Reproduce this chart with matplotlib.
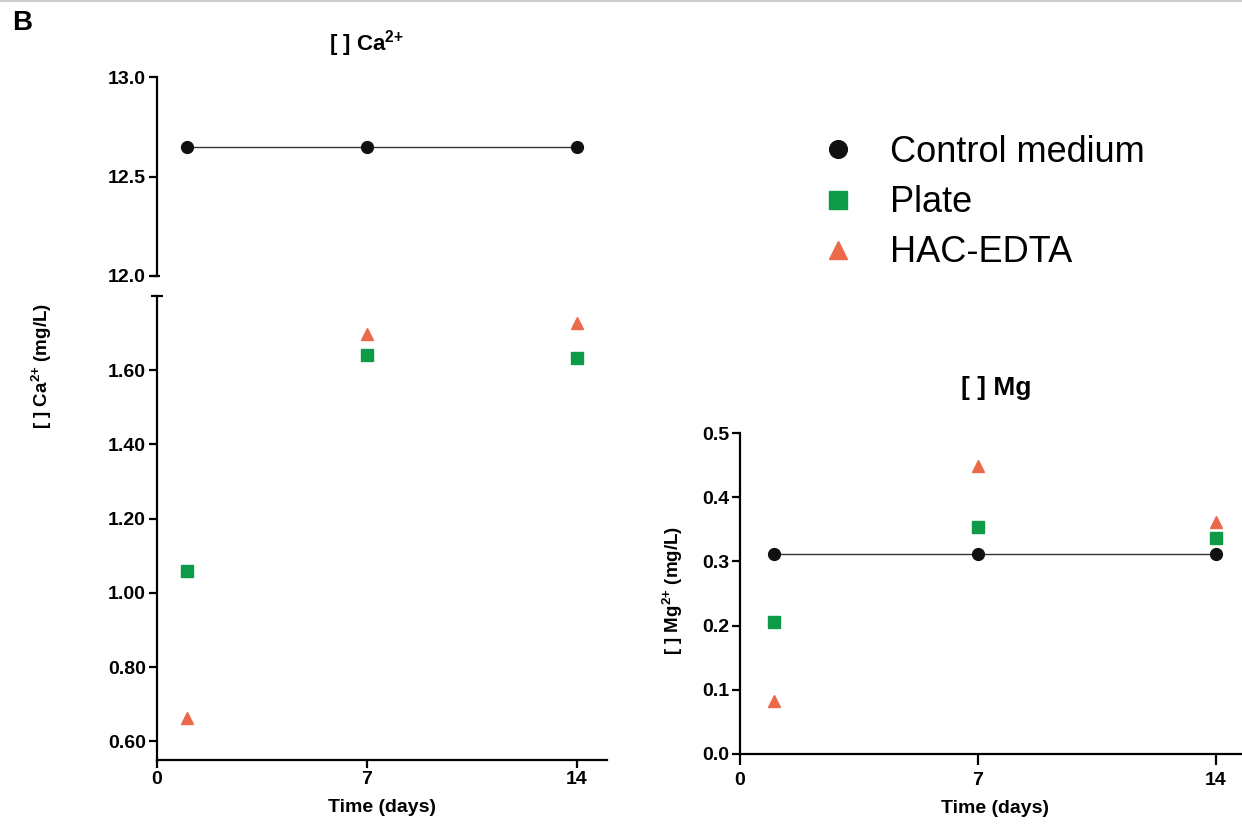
import matplotlib
matplotlib.use("Agg")
import matplotlib.pyplot as plt
from matplotlib.lines import Line2D

plt.rcParams['font.family'] = ['Liberation Sans', 'DejaVu Sans']
plt.rcParams['mathtext.default'] = 'regular'

# ---- data ----
days = [1, 7, 14]
ca_control = [12.65, 12.65, 12.65]
ca_plate = [1.06, 1.64, 1.633]
ca_hac = [0.663, 1.698, 1.728]
mg_control = [0.311, 0.311, 0.311]
mg_plate = [0.206, 0.354, 0.336]
mg_hac = [0.082, 0.448, 0.362]

x_ticks = [0, 7, 14]
ca_top_ticks = [12.0, 12.5, 13.0]
ca_bot_ticks = [0.60, 0.80, 1.00, 1.20, 1.40, 1.60]
mg_ticks = [0.0, 0.1, 0.2, 0.3, 0.4, 0.5]

labels = ["Control medium", "Plate", "HAC-EDTA"]
c_black = "#111111"
c_green = "#0e9a47"
c_orange = "#ec6a4b"

W, H = 1242, 825
fig = plt.figure(figsize=(W / 100, H / 100), dpi=100)


def px(x0, y0, x1, y1):
    return [x0 / W, 1 - y1 / H, (x1 - x0) / W, (y1 - y0) / H]


SPW = 1.6
TICK = dict(direction='out', length=6, width=1.6, labelsize=14, pad=2)

ax_top = fig.add_axes(px(157, 77, 607, 276))
ax_bot = fig.add_axes(px(157, 296, 607, 760))
ax_mg = fig.add_axes(px(740, 433, 1250, 754))

for a in (ax_top, ax_bot, ax_mg):
    for s in ('top', 'right'):
        a.spines[s].set_visible(False)
    for s in ('left', 'bottom'):
        a.spines[s].set_linewidth(SPW)
    a.tick_params(**TICK)
    a.set_xlim(0, 15)

ax_mg.tick_params(axis='x', length=8, pad=5)

ax_top.spines['bottom'].set_visible(False)
ax_top.tick_params(axis='x', bottom=False, labelbottom=False)

# Calcium top (control)
ax_top.plot(days, ca_control, '-', color='#333333', lw=1.0, zorder=2)
ax_top.plot(days, ca_control, 'o', color=c_black, ms=8.5, zorder=3)
ax_top.set_ylim(12.0, 13.0)
ax_top.set_yticks(ca_top_ticks)
ax_top.set_yticklabels([f"{v:.1f}" for v in ca_top_ticks])

# Calcium bottom
ax_bot.plot(days, ca_plate, 's', color=c_green, ms=8.5, zorder=3)
ax_bot.plot(days, ca_hac, '^', color=c_orange, ms=9, zorder=3)
ax_bot.set_ylim(0.55, 1.80)
ax_bot.set_yticks(ca_bot_ticks)
ax_bot.set_yticklabels([f"{v:.2f}" for v in ca_bot_ticks])
ax_bot.set_xticks(x_ticks)
ax_bot.set_xticklabels([str(v) for v in x_ticks])
ax_bot.set_xlabel("Time (days)", fontsize=14, fontweight='bold', labelpad=8)

# break caps
cap = 6 / 450 * 15
ax_bot.plot([-cap, cap], [1.80, 1.80], color='black', lw=SPW, clip_on=False,
            solid_capstyle='butt')
ax_top.plot([-cap, cap * 0.5], [12.0, 12.0], color='black', lw=SPW, clip_on=False,
            solid_capstyle='butt')

# Magnesium
ax_mg.plot(days, mg_control, '-', color='#333333', lw=1.0, zorder=2)
h1, = ax_mg.plot(days, mg_control, 'o', color=c_black, ms=8.5, zorder=3)
h2, = ax_mg.plot(days, mg_plate, 's', color=c_green, ms=8.5, zorder=3)
h3, = ax_mg.plot(days, mg_hac, '^', color=c_orange, ms=9, zorder=3)
ax_mg.set_ylim(0, 0.5)
ax_mg.set_yticks(mg_ticks)
ax_mg.set_yticklabels([f"{v:.1f}" for v in mg_ticks])
ax_mg.set_xticks(x_ticks)
ax_mg.set_xticklabels([str(v) for v in x_ticks])
ax_mg.set_xlabel("Time (days)", fontsize=14, fontweight='bold', labelpad=8)

for a in (ax_top, ax_bot, ax_mg):
    for t in a.get_xticklabels() + a.get_yticklabels():
        t.set_fontweight('bold')

# titles and labels
fig.text(22 / W, 1 - 23 / H, "B", fontsize=20, fontweight='bold', ha='center', va='center')
fig.text(366 / W, 1 - 44 / H, "[ ] Ca$^{2{+}}$", fontsize=16, fontweight='bold',
         ha='center', va='center')
fig.text(996 / W, 1 - 388 / H, "[ ] Mg", fontsize=19, fontweight='bold',
         ha='center', va='center')
fig.text(42 / W, 1 - 366 / H, "[ ] Ca$^{2{+}}$ (mg/L)", fontsize=13.5, fontweight='bold',
         rotation=90, ha='center', va='center')
fig.text(673 / W, 1 - 590 / H, "[ ] Mg$^{2{+}}$ (mg/L)", fontsize=13.5, fontweight='bold',
         rotation=90, ha='center', va='center')

# legend
fig.legend([h1, h2, h3], labels, loc='upper left', bbox_to_anchor=(838 / W, 1 - 135 / H),
           frameon=False, fontsize=26, handlelength=0, handletextpad=1.45,
           markerscale=1.5, labelspacing=0.42, borderpad=0, borderaxespad=0)

# thin top border
fig.add_artist(Line2D([0, 1], [1 - 1 / H, 1 - 1 / H], color='#cccccc', lw=1.5,
                      transform=fig.transFigure))

fig.savefig("out.png", dpi=100)
